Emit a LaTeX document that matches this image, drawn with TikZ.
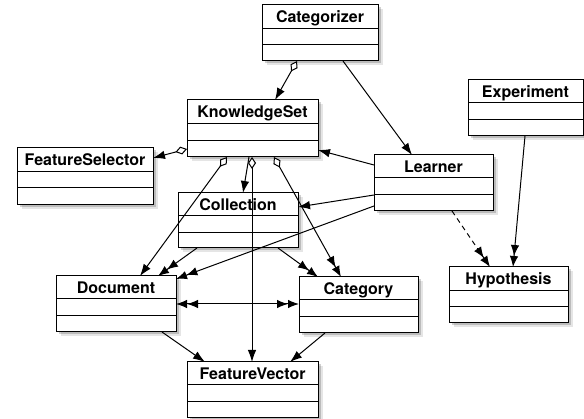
\documentclass[tikz,border=0pt]{standalone}
\usepackage{fontspec}
\setmainfont{TeX Gyre Heros}
\usetikzlibrary{arrows.meta,calc,shadows}
\tikzset{
  tip/.style={Latex[length=12pt,width=8.5pt]},
  classbox/.style={draw=black, line width=1pt, fill=white, inner sep=0pt, outer sep=0pt,
    drop shadow={shadow xshift=4.5pt, shadow yshift=-4.5pt, fill=black, opacity=0.10},
    drop shadow={shadow xshift=2.5pt, shadow yshift=-2.5pt, fill=black, opacity=0.18}},
  sepline/.style={line width=1pt},
  titletext/.style={font=\fontsize{16}{18}\selectfont\bfseries, inner sep=0pt, anchor=base},
  conn/.style={line width=1pt, -{Latex[length=12pt,width=8.5pt]}},
  connd/.style={line width=1pt, -{Latex[length=11pt,width=8.5pt]Latex[length=11pt,width=8.5pt]}},
  aggr/.style={line width=1pt, {Diamond[open,fill=white,length=12pt,width=8pt]}-{Latex[length=12pt,width=8.5pt]}},
  aggrd/.style={line width=1pt, {Diamond[open,fill=white,length=12pt,width=8pt]}-{Latex[length=11pt,width=8.5pt]Latex[length=11pt,width=8.5pt]}},
  depd/.style={line width=1pt, dash pattern=on 5pt off 4pt, -{Latex[length=11pt,width=8.5pt]Latex[length=11pt,width=8.5pt]}},
  bidir/.style={line width=1pt, {Latex[length=11pt,width=8.5pt]Latex[length=11pt,width=8.5pt]}-{Latex[length=11pt,width=8.5pt]Latex[length=11pt,width=8.5pt]}},
}
% #1 name, #2 x1, #3 y1, #4 x2, #5 y2, #6 line1 y, #7 line2 y, #8 title
\newcommand{\umlclass}[8]{%
  \node[classbox, minimum width={(#4-#2)*1pt}, minimum height={(#5-#3)*1pt}] (#1) at ({(#2+#4)/2},{(#3+#5)/2}) {};
  \draw[sepline] (#1.west |- 0,#6) -- (#1.east |- 0,#6);
  \draw[sepline] (#1.west |- 0,#7) -- (#1.east |- 0,#7);
  \node[titletext] (#1-t) at ({(#2+#4)/2},{#3+17.5}) {#8};
}
\begin{document}
\begin{tikzpicture}[x=1pt,y=-1pt]
\useasboundingbox (0,0) rectangle (584,419);
% classes
\umlclass{catz}{262}{5}{378}{61}{29}{45}{Categorizer}
\umlclass{ks}{187}{100}{318}{157}{124}{141}{KnowledgeSet}
\umlclass{fs}{17}{148}{153}{205}{172}{188}{FeatureSelector}
\umlclass{col}{178}{193}{298}{248}{216}{233}{Collection}
\umlclass{lrn}{374}{155}{493}{211}{178}{195}{Learner}
\umlclass{exp}{468}{80}{583}{136}{103}{120}{Experiment}
\umlclass{doc}{56}{276}{176}{332}{299}{316}{Document}
\umlclass{cat}{299}{277}{418}{333}{300}{317}{Category}
\umlclass{hyp}{449}{267}{568}{323}{291}{307}{Hypothesis}
\umlclass{fv}{187}{362}{318}{418}{385}{402}{FeatureVector}
% connectors
\draw[aggr] ($(catz.south west)+(35,0)$) -- ($(ks.north west)+(88,0)$);
\draw[conn] ($(catz.south west)+(81,0)$) -- ($(lrn.north west)+(38,0)$);
\draw[aggr] ($(ks.north west)+(0,49)$) -- ($(fs.north east)+(0,10)$);
\draw[aggr] ($(ks.south west)+(40,0)$) -- ($(doc.north west)+(84,0)$);
\draw[conn] ($(ks.south west)+(62,0)$) -- ($(col.north west)+(65,0)$);
\draw[aggr] ($(ks.south west)+(65,0)$) -- ($(fv.north west)+(65,0)$);
\draw[aggrd] ($(ks.south west)+(87,0)$) -- ($(cat.north west)+(42,0)$);
\draw[conn] ($(lrn.north west)+(0,10)$) -- ($(ks.north east)+(0,50)$);
\draw[conn] ($(lrn.north west)+(0,40)$) -- ($(col.north east)+(0,14)$);
\draw[connd] ($(lrn.north west)+(0,51)$) -- ($(doc.north east)+(0,3)$);
\draw[depd] ($(lrn.south west)+(78,0)$) -- ($(hyp.north west)+(41,0)$);
\draw[connd] ($(exp.south west)+(57,0)$) -- ($(hyp.north west)+(64,0)$);
\draw[connd] ($(col.south west)+(19,0)$) -- ($(doc.north west)+(102,0)$);
\draw[connd] ($(col.south west)+(100,0)$) -- ($(cat.north west)+(19,0)$);
\draw[bidir] ($(doc.north east)+(0,28)$) -- ($(cat.north west)+(0,27)$);
\draw[conn] ($(doc.south west)+(106,0)$) -- ($(fv.north west)+(18,0)$);
\draw[conn] ($(cat.south west)+(26,0)$) -- ($(fv.north west)+(103,0)$);
\end{tikzpicture}
\end{document}
